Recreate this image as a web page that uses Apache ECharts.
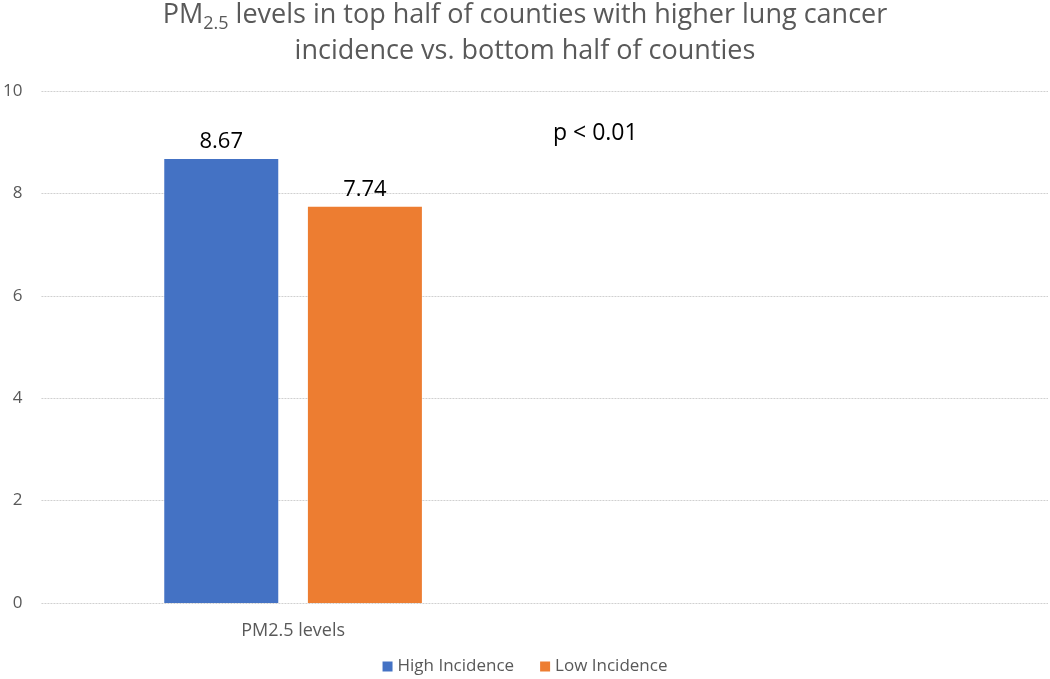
<!DOCTYPE html>
<html>
<head>
<meta charset="utf-8">
<script src="https://cdn.jsdelivr.net/npm/echarts@6/dist/echarts.min.js"></script>
<style>html,body{margin:0;padding:0;background:#fff}#c{width:1050px;height:679px}</style>
</head>
<body>
<div id="c"></div>
<script>
var categories = ['PM2.5 levels', ''];
var seriesNames = ['High Incidence', 'Low Incidence'];
var highValues = [8.67, null];
var lowValues = [7.74, null];
var yTicks = [0, 2, 4, 6, 8, 10];
var annotation = 'p < 0.01';

var font = 'Open Sans';
var chart = echarts.init(document.getElementById('c'));
chart.setOption({
  animation: false,
  backgroundColor: '#fff',
  color: ['#4472C4', '#ED7D31'],
  title: {
    text: '{a|PM}{s|2.5}{a| levels in top half of counties with higher lung cancer}\n{a|incidence vs. bottom half of counties}',
    left: 'center',
    top: -3,
    padding: 0,
    textStyle: {
      fontWeight: 'normal',
      rich: {
        a: { fontFamily: font, fontSize: 27, fontWeight: 'normal', color: '#595959', lineHeight: 36 },
        s: { fontFamily: font, fontSize: 18, fontWeight: 'normal', color: '#595959', lineHeight: 36, verticalAlign: 'bottom', padding: [14, 0, 0, 0] }
      }
    }
  },
  grid: { left: 37, right: 2, top: 91, bottom: 76, containLabel: false },
  legend: {
    bottom: -1,
    left: 'center',
    itemWidth: 10,
    itemHeight: 10,
    itemGap: 26,
    icon: 'rect',
    textStyle: { fontFamily: font, fontSize: 17, color: '#595959' },
    data: seriesNames
  },
  xAxis: {
    type: 'category',
    data: categories,
    axisLine: { show: false },
    axisTick: { show: false },
    axisLabel: { fontFamily: font, fontSize: 18, color: '#595959', margin: 19 }
  },
  yAxis: {
    type: 'value',
    min: yTicks[0],
    max: yTicks[yTicks.length - 1],
    interval: 2,
    axisLine: { show: false },
    axisTick: { show: false },
    axisLabel: { fontFamily: font, fontSize: 17, color: '#595959', margin: 19 },
    splitLine: { lineStyle: { color: '#D0D0D0', type: [2, 1], width: 1 } }
  },
  series: [
    {
      name: seriesNames[0], type: 'bar', data: highValues, barWidth: 114, barGap: '26%',
      label: { show: true, position: 'top', distance: 6, fontFamily: font, fontSize: 22, color: '#000' }
    },
    {
      name: seriesNames[1], type: 'bar', data: lowValues, barWidth: 114,
      label: { show: true, position: 'top', distance: 6, fontFamily: font, fontSize: 22, color: '#000' }
    }
  ],
  graphic: [{
    type: 'text', left: 553, top: 122,
    style: { text: annotation, fontFamily: font, fontSize: 23, fill: '#000' }
  }]
});
</script>
</body>
</html>
